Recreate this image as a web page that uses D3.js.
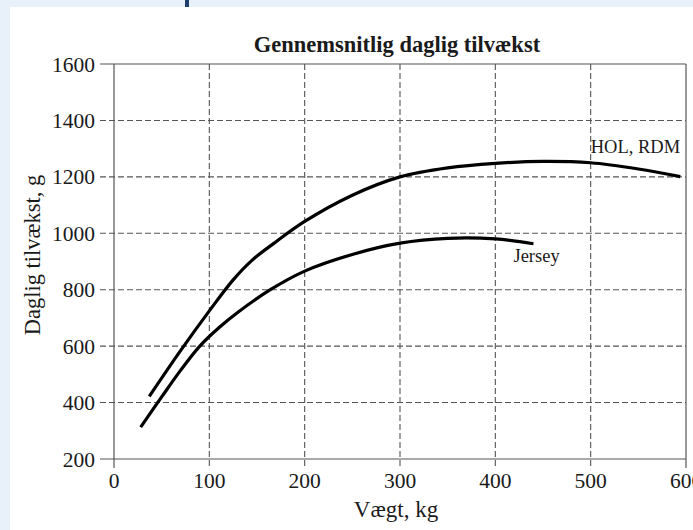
<!DOCTYPE html>
<html>
<head>
<meta charset="utf-8">
<script src="https://cdn.jsdelivr.net/npm/d3@7"></script>
<style>
  html, body { margin: 0; padding: 0; background: #e8f0fa; }
  svg { display: block; }
  text { font-family: "Liberation Serif", "Times New Roman", serif; fill: #1a1a1a; }
</style>
</head>
<body>
<svg id="chart" width="693" height="530"></svg>
<script>
const title = "Gennemsnitlig daglig tilvækst";
const xLabel = "Vægt, kg";
const yLabel = "Daglig tilvækst, g";
const xTicks = [0, 100, 200, 300, 400, 500, 600];
const yTicks = [200, 400, 600, 800, 1000, 1200, 1400, 1600];

const holWeight = [37, 70, 100, 125, 145, 170, 200, 250, 300, 350, 400, 450, 500, 550, 594];
const holGain   = [422, 585, 725, 835, 905, 970, 1042, 1135, 1200, 1232, 1248, 1255, 1250, 1228, 1201];
const jerWeight = [28, 50, 70, 90, 110, 130, 164, 200, 250, 300, 350, 400, 440];
const jerGain   = [313, 420, 515, 600, 665, 720, 800, 866, 925, 965, 982, 980, 963];

const seriesNames = ["HOL, RDM", "Jersey"];

const svg = d3.select("#chart");
// white panel
svg.append("rect").attr("x", 10).attr("y", 7).attr("width", 683).attr("height", 523).attr("fill", "#fff");
svg.append("rect").attr("x", 185).attr("y", 0).attr("width", 4).attr("height", 7).attr("fill", "#1d3d6b");

const L = 114, R = 686, T = 64, B = 459;
const x = d3.scaleLinear().domain([0, 600]).range([L, R]);
const y = d3.scaleLinear().domain([200, 1600]).range([B, T]);

const gridColor = "#555";
const g = svg.append("g");
g.selectAll(".hg").data(yTicks.filter(d => d > 200 && d < 1600)).join("line")
  .attr("x1", L - 14).attr("x2", R).attr("y1", d => y(d)).attr("y2", d => y(d))
  .attr("stroke", gridColor).attr("stroke-width", 1.1).attr("stroke-dasharray", "6,3");
g.selectAll(".vg").data(xTicks.filter(d => d > 0 && d < 600)).join("line")
  .attr("y1", T).attr("y2", B + 9).attr("x1", d => x(d)).attr("x2", d => x(d))
  .attr("stroke", gridColor).attr("stroke-width", 1.1).attr("stroke-dasharray", "6,3");

// frame
const fr = svg.append("g").attr("stroke", "#555").attr("stroke-width", 1.2);
fr.append("line").attr("x1", L - 14).attr("x2", R).attr("y1", T).attr("y2", T);
fr.append("line").attr("x1", L - 14).attr("x2", R).attr("y1", B).attr("y2", B);
fr.append("line").attr("x1", L).attr("x2", L).attr("y1", T).attr("y2", B + 9);
fr.append("line").attr("x1", R).attr("x2", R).attr("y1", T).attr("y2", B + 9);

// tick labels
svg.append("g").selectAll("text").data(yTicks).join("text")
  .attr("x", L - 19).attr("y", d => y(d)).attr("dy", "0.35em")
  .attr("text-anchor", "end").attr("font-size", 21.5).text(d => d);
svg.append("g").selectAll("text").data(xTicks).join("text")
  .attr("x", d => x(d)).attr("y", B + 29)
  .attr("text-anchor", "middle").attr("font-size", 21.5).text(d => d);

// axis titles
svg.append("text").attr("x", 396).attr("y", 517)
  .attr("text-anchor", "middle").attr("font-size", 23).text(xLabel);
svg.append("text").attr("transform", `translate(40,255) rotate(-90)`)
  .attr("text-anchor", "middle").attr("font-size", 22.5).text(yLabel);
svg.append("text").attr("x", 397).attr("y", 52)
  .attr("text-anchor", "middle").attr("font-size", 22.5).attr("font-weight", "bold").text(title);

// curves
const line = d3.line().x(d => x(d[0])).y(d => y(d[1])).curve(d3.curveCatmullRom.alpha(0.5));
const hol = holWeight.map((w, i) => [w, holGain[i]]);
const jer = jerWeight.map((w, i) => [w, jerGain[i]]);
svg.append("path").datum(hol).attr("d", line).attr("fill", "none").attr("stroke", "#000").attr("stroke-width", 3.2);
svg.append("path").datum(jer).attr("d", line).attr("fill", "none").attr("stroke", "#000").attr("stroke-width", 3.2);

// series labels
svg.append("text").attr("x", x(500)).attr("y", y(1285)).attr("font-size", 18.5).text(seriesNames[0]);
svg.append("text").attr("x", x(419)).attr("y", y(899)).attr("font-size", 18.5).text(seriesNames[1]);
</script>
</body>
</html>
